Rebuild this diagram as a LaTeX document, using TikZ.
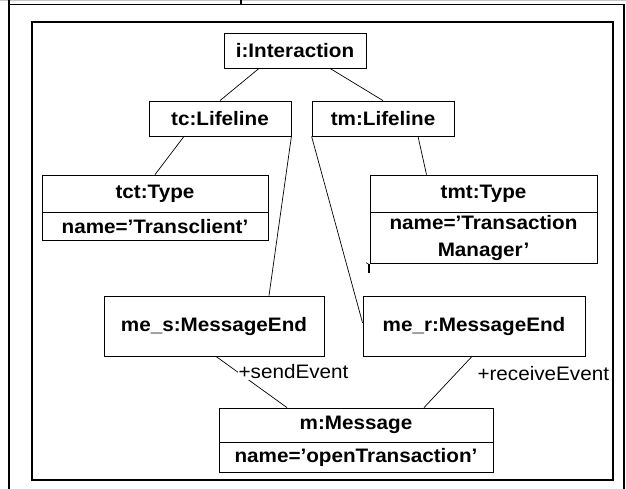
\documentclass[tikz,border=0pt]{standalone}
\usepackage{fontspec}
\setmainfont{Liberation Sans}[FakeStretch=1.06]
\usetikzlibrary{positioning}
\newcommand{\objfont}{\fontsize{19.5}{27}\selectfont}

\begin{document}
\begin{tikzpicture}[x=1pt, y=-1pt,
    objekt/.style={rectangle, draw, fill=white, line width=0.8pt, align=center, inner sep=2pt, font=\objfont\bfseries},
    rolle/.style={fill=white, inner sep=1pt, font=\objfont},
    verbindung/.style={line width=0.7pt}]
  \useasboundingbox (0,0) rectangle (626,489);

  % Rahmen
  \draw[gray!45, line width=1pt] (0,0.5) -- (626,0.5);
  \draw[line width=1.1pt] (9,0) -- (9,489);
  \draw[line width=1.1pt] (9,4.5) -- (624,4.5) -- (624,489);
  \draw[line width=1.1pt] (241,0) -- (241,4.5);
  \draw[line width=1.6pt] (32,22) rectangle (613,480);

  % Objekte
  \node[objekt, minimum width=142pt, minimum height=35pt] (inter) at (295,50.5) {i:Interaction};
  \node[objekt, minimum width=142pt, minimum height=35pt] (tcl) at (220,118.5) {tc:Lifeline};
  \node[objekt, minimum width=142pt, minimum height=35pt] (tml) at (383,118.5) {tm:Lifeline};
  \node[objekt, minimum width=226pt, minimum height=37pt] (tct) at (155,193.5) {tct:Type};
  \node[objekt, minimum width=226pt, minimum height=28pt, below=0pt of tct] (tctattr) {name='Transclient'};
  \node[objekt, minimum width=227pt, minimum height=37pt] (tmt) at (483.5,193.5) {tmt:Type};
  \node[objekt, minimum width=227pt, minimum height=51pt, below=0pt of tmt] (tmtattr) {name='Transaction\\Manager'};
  \node[objekt, minimum width=220pt, minimum height=60pt] (mes) at (214,326) {me\_s:MessageEnd};
  \node[objekt, minimum width=222pt, minimum height=60pt] (mer) at (474,326) {me\_r:MessageEnd};
  \node[objekt, minimum width=274pt, minimum height=34pt] (msg) at (356,425) {m:Message};
  \node[objekt, minimum width=274pt, minimum height=30pt, below=0pt of msg] (msgattr) {name='openTransaction'};

  % kleiner Strich unter tmt
  \draw[line width=1.3pt] ([xshift=-0.5pt]tmtattr.south west) -- ++(0,9);
  \draw[line width=0.6pt] ([xshift=-1pt]tmtattr.south west) -- ++(-2.5,-1.5);

  % Verbindungen
  \draw[verbindung] ([xshift=-36pt]inter.south) -- (tcl.north);
  \draw[verbindung] ([xshift=35pt]inter.south) -- (tml.north);
  \draw[verbindung] ([xshift=-36pt]tcl.south) -- (tct.north);
  \draw[verbindung] (tcl.south east) -- ([xshift=55pt]mes.north);
  \draw[verbindung] (tml.south west) -- ([yshift=3pt]mer.west);
  \draw[verbindung] ([xshift=35pt]tml.south) -- ([xshift=-57pt]tmt.north);
  \draw[verbindung] ([xshift=2pt]mes.south) -- node[rolle, pos=0.3, anchor=west] (send) {+sendEvent} ([xshift=-69pt]msg.north);
  \draw[verbindung] ([xshift=-2pt]mer.south) -- node[rolle, pos=0.33, anchor=west, xshift=20pt] (recv) {+receiveEvent} ([xshift=68pt]msg.north);
\end{tikzpicture}
\end{document}
